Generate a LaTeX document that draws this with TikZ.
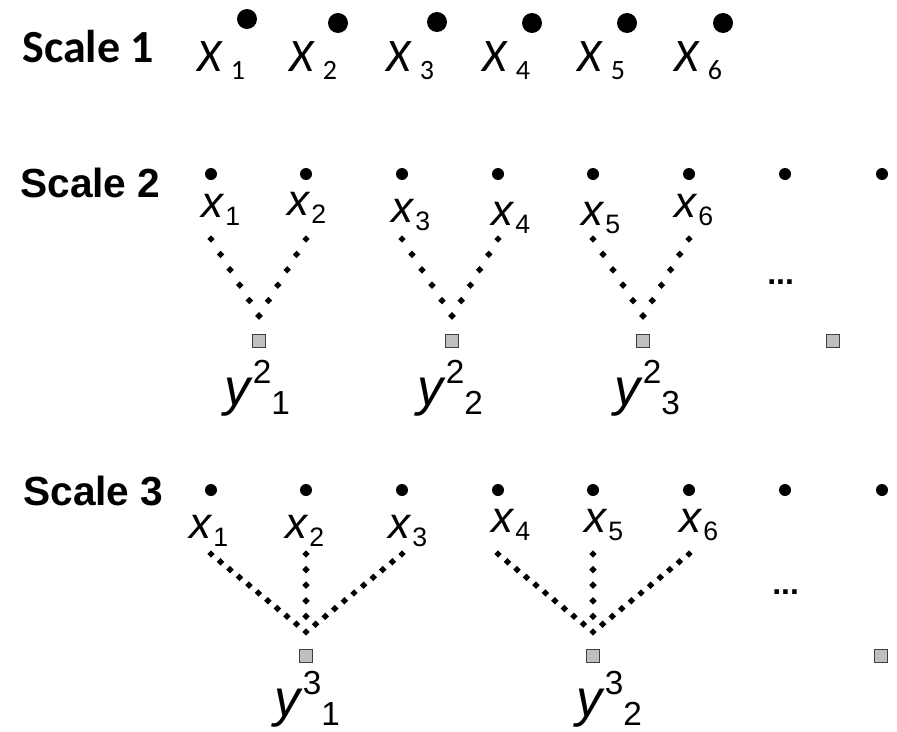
\documentclass[tikz,border=0pt]{standalone}
\usepackage{fontspec}
\usetikzlibrary{decorations.markings}
\newfontfamily\calfont{Carlito}
\newfontfamily\arialfont{Liberation Sans}

% labels: x_i on the first scale, x_i and y^s_k further down
\newcommand{\xone}[1]{{\calfont\fontsize{35}{36}\selectfont\itshape X}\kern7pt\raisebox{-6.5pt}{\calfont\fontsize{21}{22}\selectfont #1}}
\newcommand{\xtwo}[1]{{\arialfont\fontsize{33}{34}\selectfont\itshape x}\kern1.5pt\raisebox{-6pt}{\arialfont\fontsize{20}{22}\selectfont #1}}
\newcommand{\ylab}[2]{{\arialfont\fontsize{39}{40}\selectfont\itshape y}\kern2pt\raisebox{16pt}{\arialfont\fontsize{25}{26}\selectfont #1}\raisebox{-7pt}{\arialfont\fontsize{25}{26}\selectfont #2}}

\tikzset{
  bigdot/.style={circle, fill=black, inner sep=0, minimum size=15pt},
  smalldot/.style={circle, fill=black, inner sep=0, minimum size=9pt},
  leaf/.style={draw=black!75, fill=black!25, line width=0.6pt, inner sep=0, minimum size=9.5pt},
  lab/.style={anchor=base west, inner sep=0},
  link/.style={decorate, decoration={markings,
      mark=between positions 0 and 1 step #1 with {\pgftransformresetnontranslations
        \fill (-2.8pt,0) -- (0,2.8pt) -- (2.8pt,0) -- (0,-2.8pt) -- cycle;}}}
}

\begin{document}
\begin{tikzpicture}[x=0.75pt, y=-0.75pt]
  \useasboundingbox (0,0) rectangle (897,732);

  % Scale 1
  \node[lab] (scale1) at (22,62) {\calfont\bfseries\fontsize{34.5}{36}\selectfont Scale 1};
  \foreach \i/\dx/\dy/\lx in {1/247/19/197, 2/338/23/289, 3/437/22/386, 4/532/23/482, 5/627/23/577, 6/723/23/674} {
    \node[bigdot] (a\i) at (\dx,\dy) {};
    \node[lab] (xa\i) at (\lx,71) {\xone{\i}};
  }

  % Scale 2
  \node[lab] (scale2) at (20,197) {\arialfont\bfseries\fontsize{30.5}{32}\selectfont Scale 2};
  \foreach \i/\dx in {1/211, 2/306, 3/402, 4/498, 5/593, 6/689, 7/785, 8/882} {
    \node[smalldot] (b\i) at (\dx,174) {};
    \coordinate (t2-\i) at (\dx,239);
  }
  \foreach \i/\lx/\by in {1/201/217, 2/287/215, 3/391/222, 4/491/225, 5/581/225, 6/674/217}
    \node[lab] (xb\i) at (\lx,\by) {\xtwo{\i}};
  \foreach \k/\sx/\l/\r/\yx in {1/259/1/2/224, 2/452/3/4/417, 3/643/5/6/614} {
    \node[leaf] (y2-\k) at (\sx,341) {};
    \coordinate (j2-\k) at (\sx,316);
    \draw[link=0.2] (t2-\l) -- (j2-\k);
    \draw[link=0.2] (t2-\r) -- (j2-\k);
    \node[lab] (ly2-\k) at (\yx,405) {\ylab{2}{\k}};
  }
  \node[leaf] (y2-4) at (833,341) {};
  \node[lab] (more2) at (767,284) {\arialfont\bfseries\fontsize{24}{26}\selectfont ...};

  % Scale 3
  \node[lab] (scale3) at (23,505) {\arialfont\bfseries\fontsize{30.5}{32}\selectfont Scale 3};
  \foreach \i/\dx in {1/211, 2/306, 3/402, 4/498, 5/593, 6/689, 7/785, 8/882} {
    \node[smalldot] (c\i) at (\dx,490) {};
    \coordinate (t3-\i) at (\dx,554);
  }
  \foreach \i/\lx/\by in {1/189/538, 2/285/538, 3/388/538, 4/491/532, 5/584/532, 6/679/532}
    \node[lab] (xc\i) at (\lx,\by) {\xtwo{\i}};
  \foreach \k/\sx/\l/\m/\r/\yx in {1/306/1/2/3/274, 2/593/4/5/6/576} {
    \node[leaf] (y3-\k) at (\sx,656) {};
    \coordinate (j3-\k) at (\sx,632);
    \draw[link=0.1] (t3-\l) -- (j3-\k);
    \draw[link=0.2] (t3-\m) -- (j3-\k);
    \draw[link=0.1] (t3-\r) -- (j3-\k);
    \node[lab] (ly3-\k) at (\yx,716) {\ylab{3}{\k}};
  }
  \node[leaf] (y3-3) at (881,656) {};
  \node[lab] (more3) at (772,594) {\arialfont\bfseries\fontsize{24}{26}\selectfont ...};
\end{tikzpicture}
\end{document}
